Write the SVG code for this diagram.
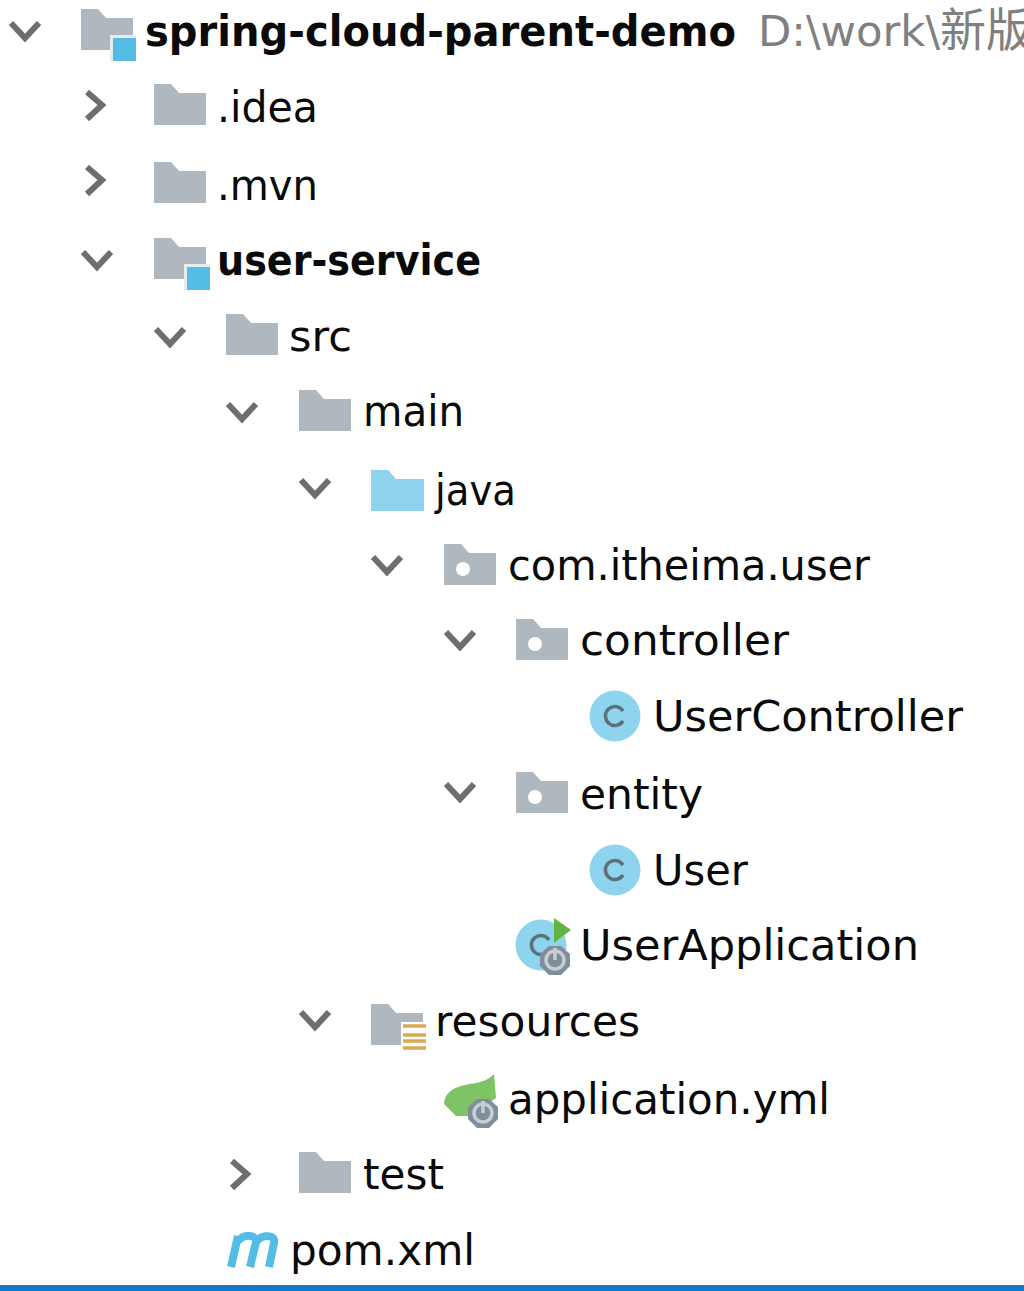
<svg xmlns="http://www.w3.org/2000/svg" width="1024" height="1291" viewBox="0 0 1024 1291">
<style>
text{font-family:"DejaVu Sans","Noto Sans CJK SC",sans-serif;font-size:43px;fill:#0a0a0a}
.b{font-weight:700}
.g{fill:#808080}
.cjk{font-size:46px}
.chev{fill:none;stroke:#6e6e6e;stroke-width:6}
</style>
<defs>
<path id="folder" d="M0 0H17L25 9H52V41H0Z" fill="#afb8be"/>
<path id="down" class="chev" d="M2 3L16 18L30 3"/>
<path id="right" class="chev" d="M3 2L18 15L3 29"/>
<g id="pkg"><use href="#folder"/><circle cx="19" cy="25" r="7" fill="#fff"/></g>
<g id="cls"><circle cx="25" cy="25" r="25.5" fill="#8fd4ee"/><path d="M33 20A9.500 9.500 0 1 0 33 30" fill="none" stroke="#5d6f7a" stroke-width="3.500"/></g>
<g id="boot"><path d="M9 0H21L30 8V20L21 29H9L0 20V8Z" fill="#7f8e9b"/><circle cx="15" cy="14" r="9" fill="none" stroke="#c8ced3" stroke-width="3.500"/><path d="M15 2V14" stroke="#c8ced3" stroke-width="3.500"/></g>
</defs>
<rect width="1024" height="1291" fill="#fff"/>
<g id="root"><use href="#down" x="9" y="20"/><use href="#folder" x="81" y="9"/><rect x="110" y="35" width="26" height="26" fill="#e6ecef"/><rect x="113" y="38" width="23" height="23" fill="#53bde6"/><text class="b" x="145" y="46" textLength="591" lengthAdjust="spacingAndGlyphs">spring-cloud-parent-demo</text><text class="g" x="758" y="46"><tspan textLength="182" lengthAdjust="spacingAndGlyphs">D:\work\</tspan><tspan class="cjk" x="940">新版</tspan></text></g>
<g id="idea"><use href="#right" x="84" y="90"/><use href="#folder" x="154" y="84"/><text x="217" y="122" textLength="101" lengthAdjust="spacingAndGlyphs">.idea</text></g>
<g id="mvn"><use href="#right" x="84" y="165"/><use href="#folder" x="154" y="162"/><text x="217" y="200" textLength="101" lengthAdjust="spacingAndGlyphs">.mvn</text></g>
<g id="user-service"><use href="#down" x="81" y="249"/><use href="#folder" x="154" y="238"/><rect x="184" y="264" width="26" height="26" fill="#e6ecef"/><rect x="187" y="267" width="23" height="23" fill="#53bde6"/><text class="b" x="217" y="275" textLength="264" lengthAdjust="spacingAndGlyphs">user-service</text></g>
<g id="src"><use href="#down" x="154" y="326"/><use href="#folder" x="226" y="314"/><text x="289" y="351" textLength="63" lengthAdjust="spacingAndGlyphs">src</text></g>
<g id="main"><use href="#down" x="226" y="401"/><use href="#folder" x="299" y="390"/><text x="363" y="426" textLength="101" lengthAdjust="spacingAndGlyphs">main</text></g>
<g id="java"><use href="#down" x="299" y="477"/><path d="M371 470H388L396 479H424V511H371Z" fill="#8ed3ee"/><text x="435" y="505" textLength="81" lengthAdjust="spacingAndGlyphs">java</text></g>
<g id="com-itheima-user"><use href="#down" x="371" y="554"/><use href="#pkg" x="444" y="544"/><text x="508" y="580" textLength="362" lengthAdjust="spacingAndGlyphs">com.itheima.user</text></g>
<g id="controller"><use href="#down" x="444" y="629"/><use href="#pkg" x="516" y="619"/><text x="580" y="655" textLength="209" lengthAdjust="spacingAndGlyphs">controller</text></g>
<g id="UserController"><use href="#cls" x="590" y="691"/><text x="653" y="731" textLength="310" lengthAdjust="spacingAndGlyphs">UserController</text></g>
<g id="entity"><use href="#down" x="444" y="781"/><use href="#pkg" x="516" y="772"/><text x="580" y="809" textLength="123" lengthAdjust="spacingAndGlyphs">entity</text></g>
<g id="User"><use href="#cls" x="590" y="845"/><text x="653" y="885" textLength="95" lengthAdjust="spacingAndGlyphs">User</text></g>
<g id="UserApplication"><use href="#cls" x="516" y="920"/><path d="M554 918L571 930L554 943Z" fill="#62b543"/><use href="#boot" x="540" y="946"/><text x="580" y="960" textLength="339" lengthAdjust="spacingAndGlyphs">UserApplication</text></g>
<g id="resources"><use href="#down" x="299" y="1009"/><use href="#folder" x="371" y="1004"/><rect x="401" y="1022" width="26" height="30" fill="#fff"/><path d="M403 1026H426M403 1035H426M403 1041H426M403 1048H426" stroke="#dba94f" stroke-width="3.500"/><text x="435" y="1036" textLength="205" lengthAdjust="spacingAndGlyphs">resources</text></g>
<g id="application-yml"><path d="M444 1104C445 1088 462 1085 476 1083C486 1081 490 1078 494 1074L496 1098L470 1116L456 1116Z" fill="#7ec464"/><use href="#boot" x="468" y="1099"/><text x="508" y="1114" textLength="322" lengthAdjust="spacingAndGlyphs">application.yml</text></g>
<g id="test"><use href="#right" x="229" y="1159"/><use href="#folder" x="299" y="1152"/><text x="363" y="1189" textLength="81" lengthAdjust="spacingAndGlyphs">test</text></g>
<g id="pom"><path d="M231 1267L238 1236M238 1241C244 1234 256 1234 256 1242L250 1267M256 1242C262 1234 276 1234 274 1243L269 1267" fill="none" stroke="#53bde6" stroke-width="8"/><text x="290" y="1265" textLength="185" lengthAdjust="spacingAndGlyphs">pom.xml</text></g>
<rect id="bottom-bar" y="1285" width="1024" height="6" fill="#1a78c2"/>
</svg>
